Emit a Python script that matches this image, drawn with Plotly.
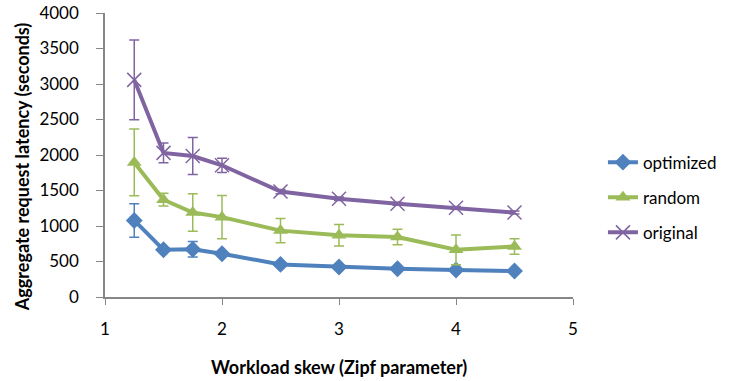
import plotly.graph_objects as go

x_vals = [1.25, 1.5, 1.75, 2.0, 2.5, 3.0, 3.5, 4.0, 4.5]

optimized = [1078, 665, 672, 609, 459, 422, 398, 380, 366]
optimized_err = [235, 25, 110, 20, 15, 15, 15, 15, 15]

random_ = [1895, 1370, 1190, 1125, 935, 870, 845, 665, 712]
random_err = [470, 90, 265, 305, 170, 150, 110, 210, 110]

original = [3058, 2030, 1985, 1855, 1485, 1383, 1313, 1256, 1190]
original_err = [560, 140, 260, 100, 30, 25, 20, 20, 20]

y_ticks = [0, 500, 1000, 1500, 2000, 2500, 3000, 3500, 4000]
x_ticks = [1, 2, 3, 4, 5]

x_title = "Workload skew (Zipf parameter)"
y_title = "Aggregate request latency (seconds)"

series = [
    ("optimized", optimized, optimized_err, "#4F81BD", dict(symbol="diamond", size=13)),
    ("random", random_, random_err, "#9BBB59", dict(symbol="triangle-up", size=13)),
    ("original", original, original_err, "#8064A2", dict(symbol="x-thin-open", size=14, line=dict(width=1.5))),
]

fig = go.Figure()
for i, (name, ys, errs, color, mk) in enumerate(series):
    m = dict(mk)
    m["color"] = color
    if "line" in m:
        m["line"] = dict(m["line"], color=color)
    fig.add_trace(go.Scatter(
        x=x_vals, y=ys, name=name, mode="lines+markers",
        line=dict(color=color, width=4),
        marker=m,
        error_y=dict(type="data", array=errs, visible=True, color=color, thickness=1.5, width=5),
        legendgroup=name,
    ))

FONT = "Lato, Open Sans, sans-serif"
fig.update_layout(
    width=732, height=381,
    margin=dict(l=105, r=159, t=13, b=84, autoexpand=False),
    plot_bgcolor="white", paper_bgcolor="white",
    font=dict(family=FONT, size=17, color="#000000"),
    showlegend=True,
    legend=dict(x=1.064, y=0.35, xanchor="left", yanchor="middle",
                traceorder="grouped", tracegroupgap=10,
                font=dict(family=FONT, size=17, color="#000000"),
                bgcolor="rgba(0,0,0,0)"),
    xaxis=dict(range=[1, 5], tickvals=x_ticks, ticks="outside", ticklen=6,
               tickcolor="#868686", showline=True, linecolor="#868686", linewidth=1.5,
               showgrid=False, zeroline=False, ticklabelstandoff=10, automargin=False,
               tickfont=dict(family=FONT, size=17)),
    yaxis=dict(range=[0, 4000], tickvals=y_ticks, ticks="outside", ticklen=7,
               tickcolor="#868686", showline=True, linecolor="#868686", linewidth=1.5,
               showgrid=False, zeroline=False, ticklabelstandoff=14, automargin=False,
               tickfont=dict(family=FONT, size=17)),
    annotations=[
        dict(text="<b>" + x_title + "</b>", xref="paper", yref="paper",
             x=0.5, y=-0.245, xanchor="center", yanchor="middle", showarrow=False,
             font=dict(family=FONT, size=18, color="#000000")),
        dict(text="<b>" + y_title + "</b>", xref="paper", yref="paper",
             x=-0.1756, y=0.46, xanchor="center", yanchor="middle", showarrow=False,
             textangle=-90, font=dict(family=FONT, size=18, color="#000000")),
    ],
)

fig.write_html("out.html")
